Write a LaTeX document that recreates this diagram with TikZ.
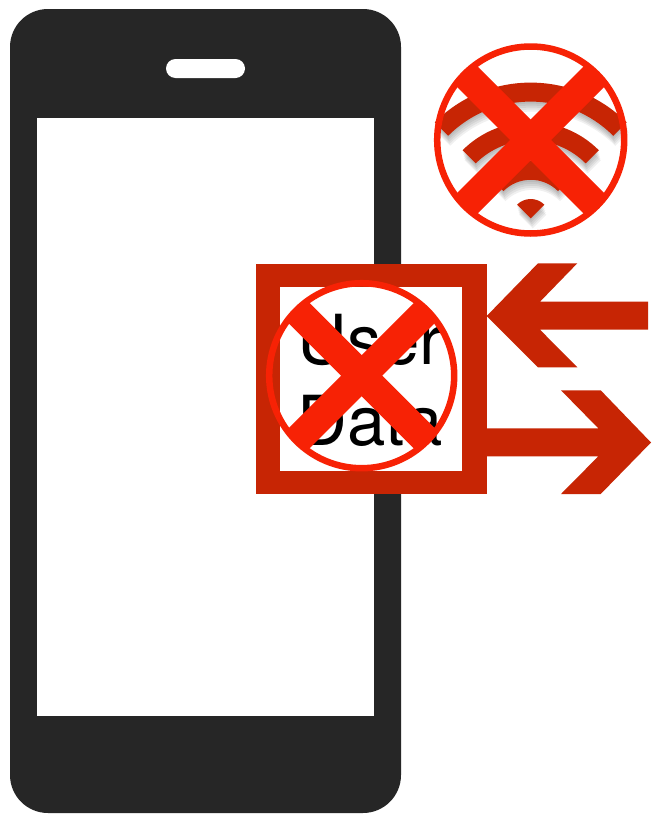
\documentclass[tikz,border=0pt]{standalone}
\usepackage{fontspec}
\setmainfont{TeX Gyre Heros}
\usetikzlibrary{calc}
\definecolor{phonegray}{HTML}{262626}
\definecolor{darkred}{HTML}{C72504}
\definecolor{brightred}{HTML}{F72205}
\newcommand{\wifiband}[2]{(225:#1) arc (225:315:#1) -- (315:#2) arc (315:225:#2) -- cycle}
\newcommand{\wifiwaves}{\wifiband{135.7}{116.7} \wifiband{96.3}{77.7} \wifiband{58}{38.5} (0,0) -- (225:19.3) arc (225:315:19.3) -- cycle}
\newcommand{\nosign}[2]{
  \begin{scope}[shift={(#1)}]
  \begin{scope}
  \clip (0,0) circle (#2);
  \draw[nocross] (-80,-80) -- (80,80);
  \draw[nocross] (80,-80) -- (-80,80);
  \end{scope}
  \draw[nocircle] (0,0) circle (#2);
  \end{scope}
}

\begin{document}
\begin{tikzpicture}[x=1pt, y=1pt, yscale=-1,
  nocircle/.style={draw=brightred, line width=6.5pt},
  nocross/.style={draw=brightred, line width=29pt},
  arrowred/.style={fill=darkred},
]
\useasboundingbox (0,0) rectangle (651,814);
\fill[white] (0,0) rectangle (651,814);
\coordinate (wifi) at (530.7, 218.3);
\coordinate (wifix) at (530.7, 140);
\coordinate (datax) at (361.7, 375.7);
\fill[phonegray, rounded corners=38pt] (10,9) rectangle (401,813);
\fill[white] (37,118) rectangle (374,716);
\fill[white, rounded corners=9.5pt] (166,59) rectangle (245,78);
\foreach \yy/\xx in {2/0, 4/0.5, 6/1, 8/1.5, 10/2}
  \fill[black, opacity=0.06, shift={($(wifi)+(\xx,\yy)$)}] \wifiwaves;
\fill[darkred, shift={(wifi)}] \wifiwaves;
\nosign{wifix}{93.5}
\fill[arrowred] (255.5,263.5) rectangle (487,494);
\fill[white] (279.7,287) rectangle (462,470.7);
\fill[arrowred] (486.7,316) -- (538,263.3) -- (577.3,263.3) -- (540,301.7) -- (648,301.7) -- (648,329.7) -- (540,329.7) -- (577.3,367.3) -- (538,367.3) -- cycle;
\fill[arrowred] (487,428.3) -- (598.3,428.3) -- (561,390.3) -- (600.7,390.3) -- (651,442.5) -- (600.7,494) -- (561,494) -- (598.3,456.3) -- (487,456.3) -- cycle;
\node[anchor=north west, inner sep=0pt, align=left, font=\fontsize{69}{81}\selectfont] (userdata) at (297,314) {User\\Data};
\nosign{datax}{92.5}
\end{tikzpicture}
\end{document}
